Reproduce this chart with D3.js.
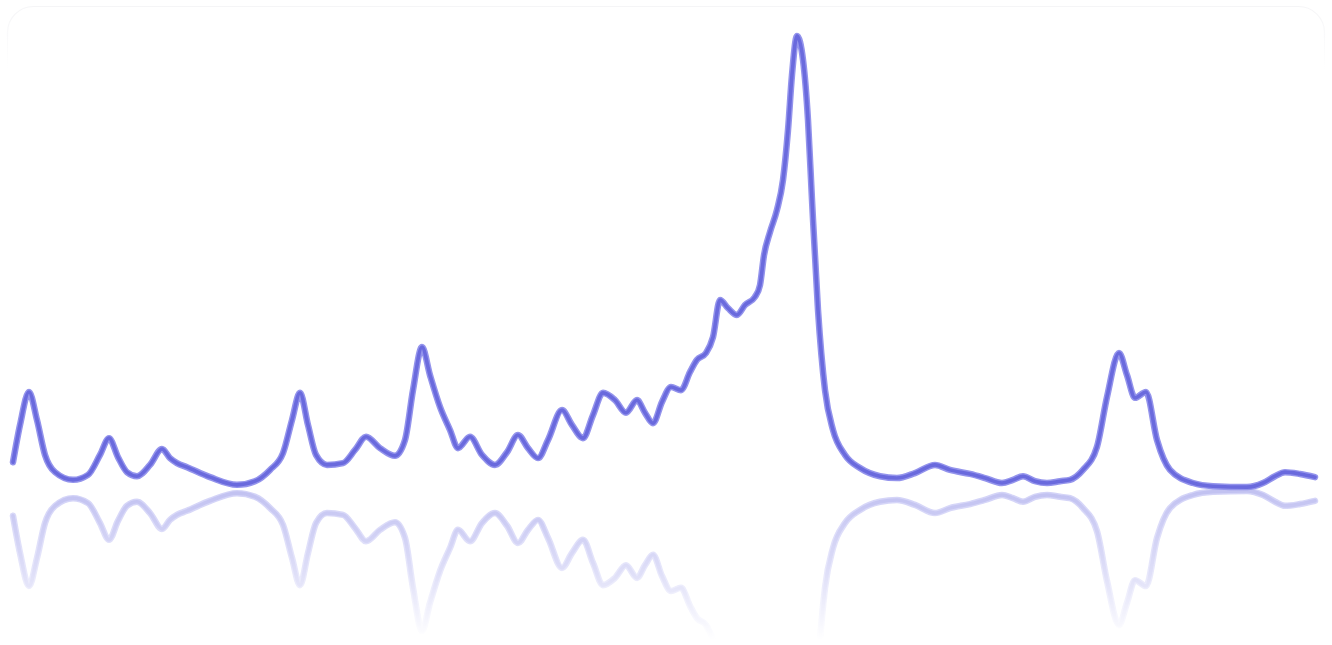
<!DOCTYPE html>
<html>
<head>
<meta charset="utf-8">
<script src="https://cdn.jsdelivr.net/npm/d3@7/dist/d3.min.js"></script>
<style>
  html, body { margin: 0; padding: 0; background: #ffffff; }
  svg { display: block; }
</style>
</head>
<body>
<svg id="chart" width="1332" height="645"></svg>
<script>
// ---- data (x: time units, y: value) ----
const xs = [0,7,16,24,32,42,60,75,87,96,105,114,124,137,149,157,164,174,197,224,242,257,270,279,287,295,303,314,330,342,353,367,382,392,400,409,417,427,437,445,457,469,482,494,505,515,525,535,549,559,570,580,590,602,613,624,632,640,649,658,668,677,684,693,700,707,715,724,732,742,747,751,757,764,770,775,779,784,790,795,799,805,812,820,832,847,867,884,902,922,937,957,972,989,1000,1010,1022,1034,1047,1057,1070,1084,1094,1106,1114,1122,1133,1144,1157,1180,1200,1234,1250,1262,1272,1287,1302];
const ys = [5.7,13.9,21.2,15.0,7.3,3.5,1.8,2.9,7.3,11.0,6.8,3.5,2.6,5.1,8.6,6.6,5.5,4.6,2.4,0.7,1.5,4.0,7.7,15.0,21.0,13.9,7.3,5.1,5.5,8.4,11.3,8.8,7.1,10.6,21.6,31.1,24.9,17.9,12.8,8.8,11.3,7.3,5.1,7.9,11.7,8.8,6.6,10.6,17.2,13.9,11.0,16.1,21.0,19.4,16.6,19.4,16.6,14.3,19.0,22.3,21.6,25.6,28.3,29.8,33.3,41.5,39.7,38.2,40.4,42.2,44.8,51.4,56.5,61.4,68.0,79.0,91.2,99.8,94.5,81.2,63.6,39.3,21.6,12.8,7.3,4.4,2.6,2.2,3.3,5.1,4.0,3.1,2.2,1.1,1.8,2.6,1.5,1.1,1.5,1.8,4.0,9.1,20.1,29.8,24.9,19.9,21.2,10.6,4.0,1.1,0.4,0.2,1.1,2.6,3.5,3.1,2.4];

// ---- layout ----
const W = 1332, H = 645;
const baseY = 488;           // value 0 / mirror axis
const x = d3.scaleLinear().domain([0, 1302]).range([13, 1315]);
const y = d3.scaleLinear().domain([0, 100]).range([baseY, 35]);

const svg = d3.select("#chart");
const defs = svg.append("defs");

// soft blur like the reference
defs.append("filter").attr("id", "soft")
  .attr("x", "-5%").attr("y", "-5%").attr("width", "110%").attr("height", "110%")
  .append("feGaussianBlur").attr("stdDeviation", 0.75);

// fading gradient mask for the reflection
const grad = defs.append("linearGradient").attr("id", "fade")
  .attr("gradientUnits", "userSpaceOnUse")
  .attr("x1", 0).attr("y1", baseY).attr("x2", 0).attr("y2", 640);
grad.append("stop").attr("offset", 0).attr("stop-color", "#fff").attr("stop-opacity", 0.42);
grad.append("stop").attr("offset", 0.55).attr("stop-color", "#fff").attr("stop-opacity", 0.22);
grad.append("stop").attr("offset", 1).attr("stop-color", "#fff").attr("stop-opacity", 0);
defs.append("mask").attr("id", "reflMask")
  .attr("maskUnits", "userSpaceOnUse")
  .attr("x", 0).attr("y", 0).attr("width", W).attr("height", H)
  .append("rect").attr("x", 0).attr("y", baseY).attr("width", W).attr("height", H - baseY)
  .attr("fill", "url(#fade)");

// faint card outline, visible only near the top
const cardGrad = defs.append("linearGradient").attr("id", "cardStroke")
  .attr("gradientUnits", "userSpaceOnUse")
  .attr("x1", 0).attr("y1", 0).attr("x2", 0).attr("y2", 70);
cardGrad.append("stop").attr("offset", 0).attr("stop-color", "#f4f4f6");
cardGrad.append("stop").attr("offset", 1).attr("stop-color", "#ffffff");
svg.append("rect")
  .attr("x", 7.5).attr("y", 6.5).attr("width", W - 15).attr("height", H - 4)
  .attr("rx", 26).attr("ry", 26)
  .attr("fill", "none").attr("stroke", "url(#cardStroke)").attr("stroke-width", 1.2);

const data = xs.map((v, i) => [v, ys[i]]);
const line = d3.line()
  .x(d => x(d[0]))
  .y(d => y(d[1]))
  .curve(d3.curveMonotoneX);

function drawLine(g) {
  g.append("path").attr("d", line(data))
    .attr("fill", "none").attr("stroke", "#9494ec").attr("stroke-width", 6.5)
    .attr("stroke-linejoin", "round").attr("stroke-linecap", "round");
  g.append("path").attr("d", line(data))
    .attr("fill", "none").attr("stroke", "#6a6add").attr("stroke-width", 3.6)
    .attr("stroke-linejoin", "round").attr("stroke-linecap", "round");
}

// reflection
const refl = svg.append("g").attr("mask", "url(#reflMask)");
const reflInner = refl.append("g")
  .attr("transform", `translate(0,${2 * baseY + 2}) scale(1,-1)`)
  .attr("filter", "url(#soft)");
drawLine(reflInner);

// main line
const main = svg.append("g").attr("filter", "url(#soft)");
drawLine(main);
</script>
</body>
</html>
